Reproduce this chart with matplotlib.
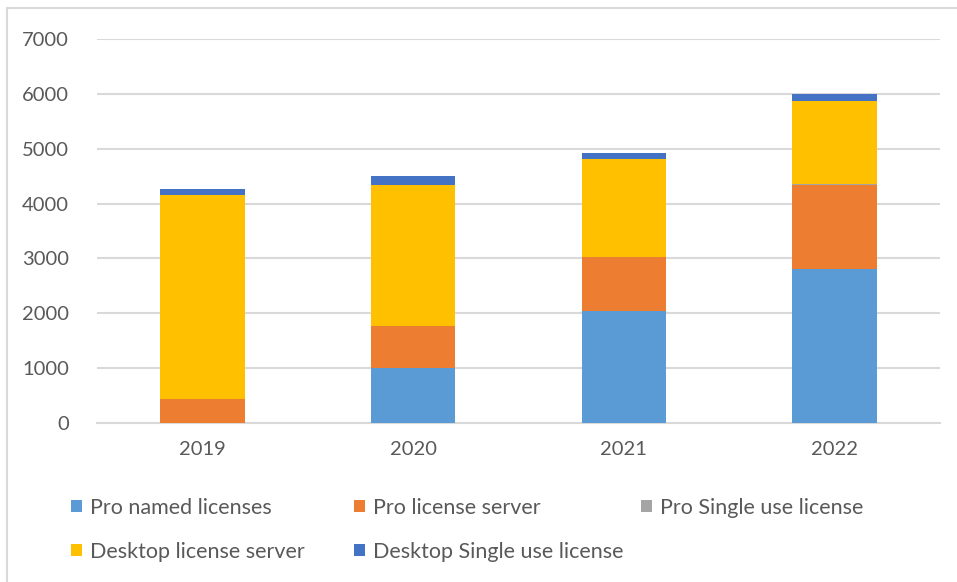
import matplotlib.pyplot as plt
import numpy as np
from matplotlib.patches import Patch, Rectangle

years = ["2019", "2020", "2021", "2022"]
pro_named = [0, 1000, 2040, 2800]
pro_server = [430, 770, 980, 1530]
pro_single = [0, 0, 10, 20]
desktop_server = [3720, 2570, 1780, 1520]
desktop_single = [120, 160, 110, 130]

series_names = [
    "Pro named licenses",
    "Pro license server",
    "Pro Single use license",
    "Desktop license server",
    "Desktop Single use license",
]
series_colors = ["#5B9BD5", "#ED7D31", "#A5A5A5", "#FFC000", "#4472C4"]

plt.rcParams["font.family"] = ["Lato", "DejaVu Sans"]

fig = plt.figure(figsize=(9.57, 5.82), dpi=100)
ax = fig.add_axes([97 / 957, 159 / 582, 843 / 957, 384 / 582])

x = np.arange(len(years))
bottom = np.zeros(len(years))
for values, color in zip(
    [pro_named, pro_server, pro_single, desktop_server, desktop_single], series_colors
):
    ax.bar(x, values, width=0.4, bottom=bottom, color=color, linewidth=0, zorder=3)
    bottom += np.array(values)

ax.set_xlim(-0.5, 3.5)
ax.set_ylim(0, 7000)
ax.set_yticks(range(0, 7001, 1000))
ax.set_xticks(x)
ax.set_xticklabels(years)
ax.yaxis.grid(True, color="#D9D9D9", linewidth=1.5, zorder=0)
for side in ["top", "right", "left"]:
    ax.spines[side].set_visible(False)
ax.spines["bottom"].set_color("#D9D9D9")
ax.spines["bottom"].set_linewidth(1.5)
ax.tick_params(axis="both", length=0, labelsize=14.5, labelcolor="#595959")
ax.tick_params(axis="y", pad=20)
ax.tick_params(axis="x", pad=13)

# chart border (cut off at right/bottom in the screenshot)
fig.patches.append(
    Rectangle((7 / 957, -0.1), 1.1, 1 - 8 / 582 + 0.1, transform=fig.transFigure,
              fill=False, edgecolor="#D9D9D9", linewidth=1.5)
)

# legend laid out like Excel: fixed column positions, row-major order
handles = [Patch(facecolor=c, edgecolor="none") for c in series_colors]
columns = [[0, 3], [1, 4], [2]]
col_x = [71, 354, 641]
for cx, idx in zip(col_x, columns):
    leg = fig.legend(
        [handles[i] for i in idx],
        [series_names[i] for i in idx],
        loc="upper left",
        bbox_to_anchor=(cx / 957, 1 - 498 / 582),
        frameon=False,
        fontsize=15.5,
        handlelength=0.5,
        handleheight=0.5,
        handletextpad=0.4,
        labelspacing=1.1,
        borderaxespad=0,
        borderpad=0,
    )
    for t in leg.get_texts():
        t.set_color("#595959")

fig.savefig("out.png", dpi=100)
